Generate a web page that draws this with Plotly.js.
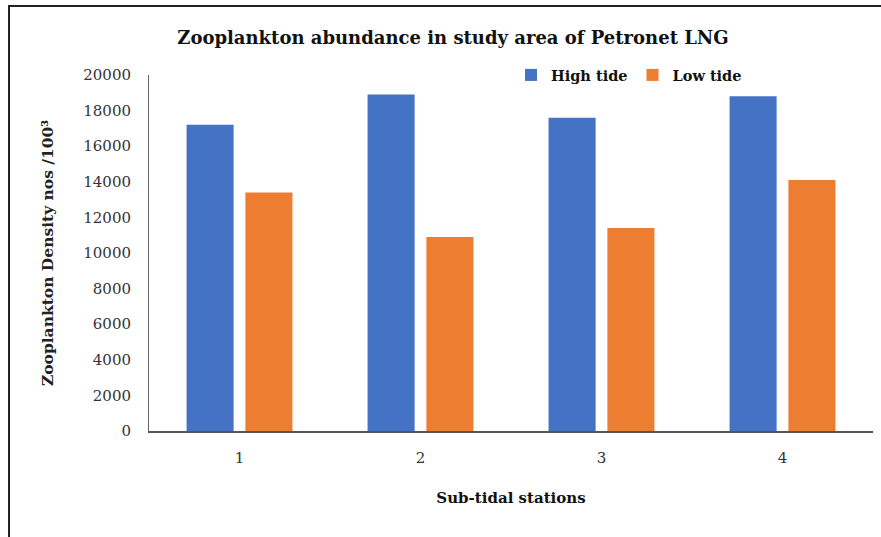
<!DOCTYPE html>
<html>
<head>
<meta charset="utf-8">
<script src="https://cdn.plot.ly/plotly-3.0.1.min.js"></script>
<style>
  html, body { margin: 0; padding: 0; background: #fff; }
  #wrap { position: relative; width: 881px; height: 537px; overflow: hidden; }
  #chart { position: absolute; left: 0; top: 0; width: 881px; height: 537px; }
  #frame { position: absolute; left: 8px; top: 5px; width: 900px; height: 560px;
           border-left: 2px solid #222; border-top: 2px solid #222; pointer-events: none; }
</style>
</head>
<body>
<div id="wrap">
  <div id="chart"></div>
  <div id="frame"></div>
</div>
<script>
const stations = ['1', '2', '3', '4'];
const highTide = [17200, 18900, 17600, 18800];
const lowTide = [13400, 10900, 11400, 14100];
const yTicks = [0, 2000, 4000, 6000, 8000, 10000, 12000, 14000, 16000, 18000, 20000];

const serif = '"DejaVu Serif", "Liberation Serif", serif';

const traces = [
  { type: 'bar', name: '<b>High tide</b>', x: stations, y: highTide,
    marker: { color: '#4472C4' } },
  { type: 'bar', name: '<b>Low tide</b>', x: stations, y: lowTide,
    marker: { color: '#ED7D31' } }
];

const layout = {
  width: 881, height: 537,
  margin: { l: 149, r: 8, t: 75, b: 106 },
  paper_bgcolor: '#fff', plot_bgcolor: '#fff',
  barmode: 'group', bargap: 0.35, bargroupgap: 0.2,
  font: { family: serif, color: '#333', size: 13 },
  title: { text: '<b>Zooplankton abundance in study area of Petronet LNG</b>',
           font: { family: serif, size: 18, color: '#111' },
           x: 453 / 881, xref: 'container', xanchor: 'center', y: 1 - 38 / 537, yref: 'container', yanchor: 'middle' },
  showlegend: true,
  legend: { orientation: 'h', x: 0.5, xanchor: 'left', y: 1.0, yanchor: 'middle',
            font: { family: serif, size: 14.5, color: '#111' }, bgcolor: 'rgba(0,0,0,0)',
            traceorder: 'normal', itemwidth: 30 },
  xaxis: {
    type: 'category', showgrid: false, zeroline: false,
    showline: true, linecolor: '#555', linewidth: 2,
    ticks: 'outside', ticklen: 12, tickcolor: 'rgba(0,0,0,0)',
    tickfont: { family: serif, size: 15, color: '#333' },
    title: { text: '<b>Sub-tidal stations</b>', font: { family: serif, size: 15, color: '#111' }, standoff: 26 }
  },
  yaxis: {
    range: [0, 20000], tickvals: yTicks, ticktext: yTicks.map(String),
    showgrid: false, zeroline: false,
    showline: true, linecolor: '#666', linewidth: 1,
    ticks: 'outside', ticklen: 14, tickcolor: 'rgba(0,0,0,0)',
    tickfont: { family: serif, size: 15, color: '#333' },
    title: { text: '<b>Zooplankton Density nos /100³</b>', font: { family: serif, size: 15.5, color: '#222' }, standoff: 25 }
  }
};

Plotly.newPlot('chart', traces, layout, { displayModeBar: false, staticPlot: true });
</script>
</body>
</html>
